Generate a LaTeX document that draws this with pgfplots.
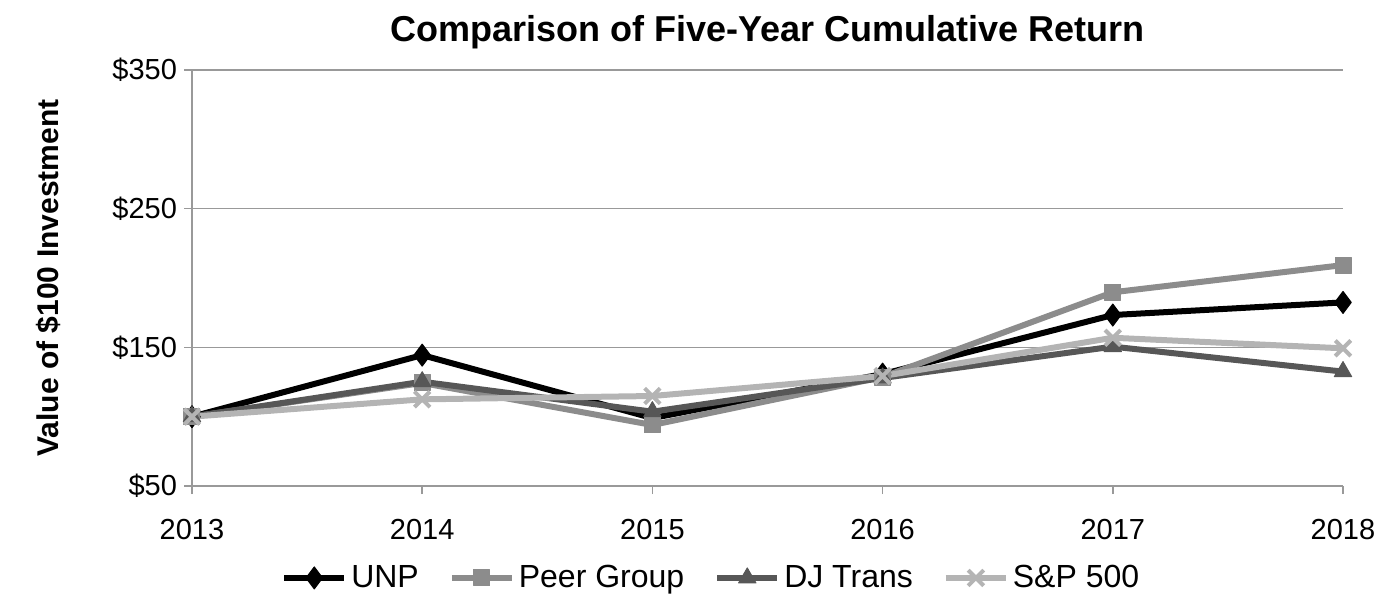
\documentclass[border=0pt]{standalone}
\usepackage{pgfplots}
\pgfplotsset{compat=1.18}
\usepackage{fontspec}
\setmainfont{Liberation Sans}
\definecolor{unp}{HTML}{000000}
\definecolor{peer}{HTML}{8C8C8C}
\definecolor{djt}{HTML}{575757}
\definecolor{spx}{HTML}{B4B4B4}
\begin{document}
\begin{tikzpicture}
\useasboundingbox (-96pt,-57.5pt) rectangle (599.5pt,243pt);
\begin{axis}[
    scale only axis,
    width=575.5pt, height=208pt,
    xmin=2013, xmax=2018,
    ymin=50, ymax=350,
    xtick={2013,2014,2015,2016,2017,2018},
    ytick={50,150,250,350},
    yticklabel={\$\pgfmathprintnumber{\tick}},
    x tick label style={/pgf/number format/1000 sep={}},
    /pgf/number format/assume math mode=true,
    axis lines=left,
    axis line style={draw=gray!80, line width=0.8pt, -},
    ymajorgrids=true,
    grid style={draw=gray!80, line width=0.8pt},
    tick style={draw=gray!80, line width=0.8pt},
    tick align=outside,
    major tick length=4pt,
    xtick pos=bottom, ytick pos=left,
    tick label style={font=\fontsize{14.5}{17}\selectfont},
    xticklabel style={yshift=-9pt},
    title={\textbf{Comparison of Five-Year Cumulative Return}},
    title style={font=\fontsize{18}{21}\selectfont, yshift=1pt},
    ylabel={\textbf{Value of \$100 Investment}},
    ylabel style={font=\fontsize{15}{18}\selectfont, yshift=19pt},
    legend columns=4,
    legend style={draw=none, at={(0.452,-0.221)}, anchor=center,
        font=\fontsize{16}{19}\selectfont,
        /tikz/every even column/.append style={column sep=13pt}},
    legend image code/.code={
        \draw[mark repeat=2,mark phase=2] plot coordinates {(0pt,0pt) (15pt,0pt) (30pt,0pt)};
    },
    every axis plot/.append style={line width=3pt, line join=round},
]
\addplot[color=unp, mark=diamond*, mark size=5.5pt, mark options={solid, line width=0.5pt}]
    coordinates {(2013,100)(2014,144.4)(2015,99)(2016,130.7)(2017,173.3)(2018,182.4)};
\addplot[color=peer, mark=square*, mark size=4pt, mark options={solid, line width=0.5pt}]
    coordinates {(2013,100)(2014,124.3)(2015,94)(2016,128.6)(2017,189.7)(2018,209.3)};
\addplot[color=djt, mark=triangle*, mark size=5pt, mark options={solid, line width=0.5pt}]
    coordinates {(2013,100)(2014,125.2)(2015,103.6)(2016,127.9)(2017,150.5)(2018,132.5)};
\addplot[color=spx, mark=x, mark size=5.5pt, mark options={solid, line width=2pt}]
    coordinates {(2013,100)(2014,112.5)(2015,114.9)(2016,129.3)(2017,156.9)(2018,149.3)};
\legend{UNP, Peer Group, DJ Trans, S\&P 500}
\end{axis}
\end{tikzpicture}
\end{document}
